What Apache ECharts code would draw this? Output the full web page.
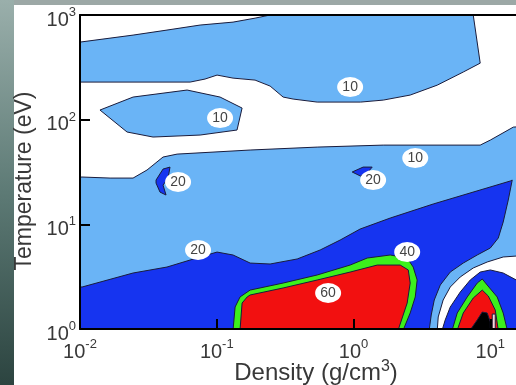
<!DOCTYPE html>
<html><head><meta charset="utf-8">
<script src="https://cdn.jsdelivr.net/npm/echarts@6/dist/echarts.min.js"></script>
<style>html,body{margin:0;padding:0;background:#fff}#c{width:516px;height:385px}</style>
</head><body><div id="c"></div>
<script>
// Axis ticks are decades; all points are [log10 density (g/cm3), log10 temperature (eV)]
const xTickExponents = [-2, -1, 0, 1];
const yTickExponents = [0, 1, 2, 3];

// contour level 10 (light blue)
const band10Top = [[-2.1,2.741],[-2,2.741],[-1.612,2.808],[-1.364,2.856],[-1.122,2.904],[-0.881,2.932],[-0.72,2.97],[-0.61,3.0],[-0.61,3.1],[0.875,3.1],[0.875,3.0],[0.926,2.54],[0.802,2.455],[0.612,2.33],[0.414,2.235],[0.217,2.187],[0.051,2.168],[-0.266,2.168],[-0.442,2.197],[-0.515,2.216],[-0.61,2.321],[-0.72,2.378],[-0.881,2.397],[-0.998,2.426],[-1.086,2.388],[-1.195,2.359],[-2,2.359],[-2.1,2.359]];
const island10 = [[-1.854,2.092],[-1.612,2.216],[-1.217,2.283],[-0.976,2.216],[-0.815,2.111],[-0.852,1.901],[-1.122,1.853],[-1.466,1.834],[-1.656,1.882]];
const main10 = [[-2.1,1.442],[-1.985,1.452],[-1.78,1.442],[-1.612,1.442],[-1.51,1.519],[-1.393,1.643],[-1.29,1.671],[-0.756,1.71],[-0.266,1.738],[0.217,1.757],[0.926,1.757],[1.0,1.805],[1.168,1.929],[1.3,1.94],[1.3,-0.2],[-2.1,-0.2]];
// gap below 10 near 10 g/cm3 (white)
const gapBelow10 = [[1.3,0.707],[1.094,0.688],[0.977,0.64],[0.875,0.583],[0.78,0.497],[0.707,0.401],[0.655,0.277],[0.619,0.115],[0.612,-0.01],[0.61,-0.2],[1.3,-0.2]];
// contour level 20 (dark blue)
const main20 = [[-2.1,0.41],[-1.985,0.401],[-1.612,0.535],[-1.364,0.592],[-1.122,0.688],[-0.998,0.735],[-0.881,0.707],[-0.756,0.63],[-0.61,0.621],[-0.412,0.669],[-0.244,0.755],[-0.098,0.85],[0.048,0.955],[0.268,1.06],[0.582,1.194],[1.146,1.414],[1.16,1.423],[1.131,1.232],[1.094,1.022],[1.058,0.869],[1.0,0.774],[0.904,0.707],[0.802,0.63],[0.707,0.544],[0.634,0.42],[0.59,0.277],[0.568,0.134],[0.553,-0.01],[0.55,-0.2],[-2.1,-0.2]];
const island20a = [[-1.444,1.423],[-1.393,1.528],[-1.342,1.547],[-1.356,1.442],[-1.393,1.375],[-1.371,1.28],[-1.415,1.308],[-1.444,1.394]];
const island20b = [[-0.01,1.5],[0.07,1.547],[0.136,1.547],[0.1,1.49],[0.051,1.461]];
const inner20 = [[0.646,-0.2],[0.648,-0.01],[0.67,0.086],[0.707,0.21],[0.78,0.353],[0.853,0.468],[0.926,0.544],[1.0,0.564],[1.094,0.535],[1.19,0.468],[1.3,0.44],[1.3,-0.2]];
// contour level 40 (green)
const main40 = [[-0.882,-0.2],[-0.881,-0.01],[-0.866,0.21],[-0.83,0.306],[-0.756,0.372],[-0.515,0.439],[-0.266,0.516],[-0.025,0.611],[0.1,0.678],[0.268,0.707],[0.392,0.678],[0.436,0.592],[0.465,0.468],[0.451,0.306],[0.414,0.153],[0.363,-0.01],[0.36,-0.2]];
const inner40 = [[0.72,-0.2],[0.721,-0.01],[0.758,0.153],[0.831,0.306],[0.904,0.439],[0.941,0.478],[0.977,0.42],[1.05,0.306],[1.094,0.153],[1.124,-0.01],[1.125,-0.2]];
// contour level 60 (red)
const main60 = [[-0.83,-0.2],[-0.83,-0.01],[-0.815,0.248],[-0.778,0.306],[-0.756,0.325],[-0.515,0.392],[-0.266,0.468],[-0.025,0.544],[0.173,0.611],[0.341,0.611],[0.4,0.564],[0.414,0.439],[0.392,0.248],[0.326,-0.01],[0.324,-0.2]];
const inner60 = [[0.757,-0.2],[0.758,-0.01],[0.802,0.153],[0.875,0.296],[0.941,0.372],[0.985,0.315],[1.036,0.181],[1.058,-0.01],[1.06,-0.2]];
// highest level (black) and thin pale streak
const inner80 = [[0.852,-0.2],[0.853,-0.01],[0.904,0.086],[0.941,0.162],[0.977,0.153],[1.0,0.067],[1.0,-0.2]];
const paleStreak = [[1.014,-0.2],[1.014,0.143],[1.036,0.143],[1.036,-0.2]];

// contour labels [x, y, text]
const contourLabels = [[-0.025,2.311,'10'],[-0.976,2.015,'10'],[0.451,1.633,'10'],[-1.283,1.404,'20'],[0.143,1.423,'20'],[-1.137,0.755,'20'],[0.392,0.735,'40'],[-0.186,0.344,'60']];

const C = {l10:'#6ab4f6', l20:'#1634f0', l40:'#3cf01c', l60:'#f21010', l80:'#000000', gap:'#ffffff', pale:'#f5d8d8'};
const regions = [
  [band10Top, C.l10],[island10, C.l10],[main10, C.l10],[gapBelow10, C.gap],
  [main20, C.l20],[island20a, C.l20],[island20b, C.l20],[inner20, C.l20],
  [main40, C.l40],[inner40, C.l40],[main60, C.l60],[inner60, C.l60],
  [inner80, C.l80],[paleStreak, C.pale]
];

const FF = '"Liberation Sans", Arial, Helvetica, sans-serif';
const TXT = '#383838';
const tickFmt = v => (xTickExponents.concat(yTickExponents).indexOf(v) >= 0 && Number.isInteger(v)) ? '{b|10}{s|' + v + '}' : '';
const tickRich = {
  b:{fontSize:20, lineHeight:28, color:TXT, fontFamily:FF},
  s:{fontSize:13, lineHeight:14, verticalAlign:'top', color:TXT, fontFamily:FF}
};

const chart = echarts.init(document.getElementById('c'), null, {renderer:'canvas'});
chart.setOption({
  backgroundColor:'#ffffff',
  animation:false,
  graphic:[
    {type:'rect', z:-10, shape:{x:0,y:0,width:516,height:5}, style:{fill:'#9ca8a6'}},
    {type:'rect', z:-10, shape:{x:0,y:0,width:14,height:385},
     style:{fill:new echarts.graphic.LinearGradient(0,0,0,1,[{offset:0,color:'#9aafab'},{offset:0.5,color:'#5d7a75'},{offset:1,color:'#2c4440'}])}}
  ],
  grid:{left:80, top:15, width:450, height:314, show:true, backgroundColor:'#ffffff', borderWidth:0,
        containLabel:false, outerBoundsMode:'none'},
  xAxis:[{
    type:'value', min:-2, max:1.29, interval:1, z:10,
    axisLine:{onZero:false, lineStyle:{color:'#000', width:2}},
    axisTick:{inside:true, length:10, lineStyle:{color:'#000', width:2}},
    splitLine:{show:false},
    axisLabel:{formatter:tickFmt, rich:tickRich, margin:9, showMaxLabel:false},
    name:'Density (g/cm{s|3})', nameLocation:'middle', nameGap:30, nameMoveOverlap:false,
    nameTextStyle:{fontSize:24, lineHeight:28, color:TXT, fontFamily:FF, padding:[0,0,0,22],
      rich:{s:{fontSize:16, lineHeight:16, verticalAlign:'top', color:TXT, fontFamily:FF}}}
  },{
    type:'value', position:'top', min:-2, max:1.29, z:10,
    axisLine:{show:true, onZero:false, lineStyle:{color:'#000', width:2}},
    axisTick:{show:false}, axisLabel:{show:false}, splitLine:{show:false}
  }],
  yAxis:{
    type:'value', min:0, max:3, interval:1, z:10,
    axisLine:{onZero:false, lineStyle:{color:'#000', width:2}},
    axisTick:{inside:true, length:10, lineStyle:{color:'#000', width:2}},
    splitLine:{show:false},
    axisLabel:{formatter:tickFmt, rich:tickRich, margin:4, padding:[10,0,0,0]},
    name:'Temperature (eV)', nameLocation:'middle', nameGap:44, nameMoveOverlap:false,
    nameTextStyle:{fontSize:23, color:TXT, fontFamily:FF, padding:[0,18,0,0]}
  },
  series:[{
    type:'custom', xAxisIndex:0, yAxisIndex:0, clip:true, silent:true, z:2,
    data: regions.map((r,i) => [i]),
    encode:{x:0, y:0},
    renderItem:(params, api) => {
      const r = regions[params.dataIndex];
      return {type:'polygon', shape:{points:r[0].map(p => api.coord(p))},
        style:{fill:r[1], stroke:'#1a1c3c', lineWidth:1}};
    }
  },{
    type:'scatter', xAxisIndex:0, yAxisIndex:0, z:5, silent:true,
    data: contourLabels,
    symbol:'circle', symbolSize:[26,20],
    itemStyle:{color:'#ffffff', opacity:1},
    label:{show:true, position:'inside', formatter:p => p.value[2], fontSize:14, color:'#444', fontFamily:FF},
    emphasis:{disabled:true}
  }]
});
</script></body></html>
